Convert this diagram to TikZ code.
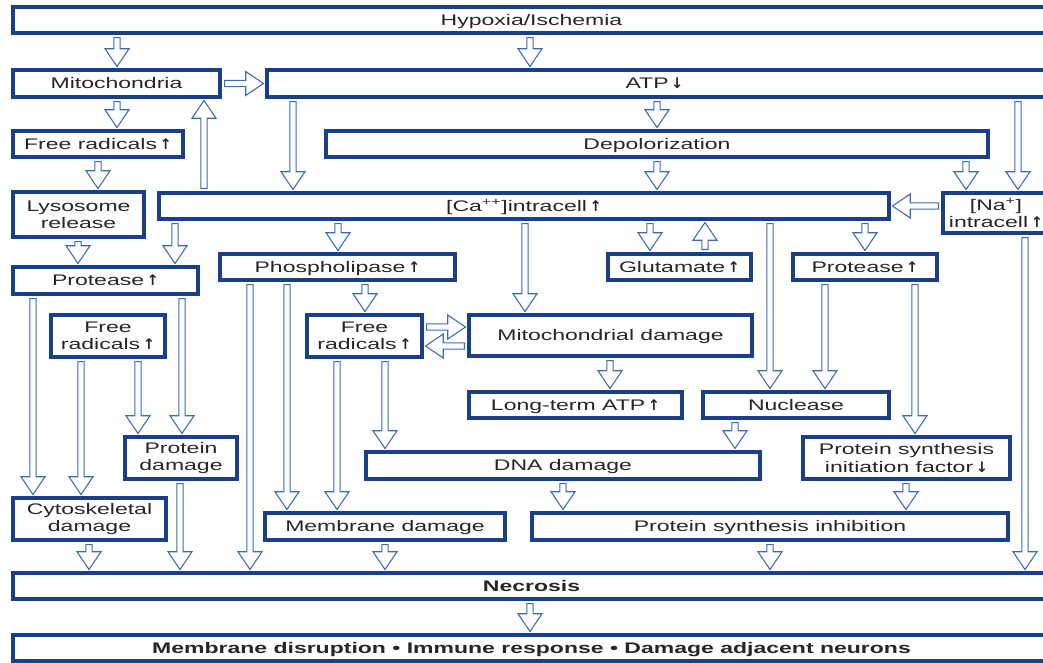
\documentclass[tikz,border=0pt]{standalone}
\usepackage{fontspec}
\setmainfont{Liberation Sans}[FakeStretch=1.5]
\newfontfamily\arrfont{DejaVu Sans}
\usetikzlibrary{shapes.arrows,decorations.markings}
\definecolor{boxblue}{RGB}{25,62,140}
\definecolor{arrblue}{RGB}{60,105,185}
\newcommand\up{\,{\arrfont\bfseries\fontsize{11}{11}\selectfont ↑}}
\newcommand\dn{\,{\arrfont\bfseries\fontsize{11}{11}\selectfont ↓}}
\tikzset{
  box/.style={draw=boxblue, line width=2.4pt, fill=white, inner sep=1pt, outer sep=3pt,
    align=center, text=black!85, font=\fontsize{11.5}{13}\selectfont},
  one/.style={text height=8.2pt, text depth=0pt},
  harrow/.style={postaction={decorate, decoration={markings,
    mark=at position 0 with {\node[single arrow, draw=arrblue, line width=0.8pt, fill=white,
      anchor=tail, transform shape, inner xsep=0pt, inner ysep=2pt, minimum width=0pt,
      minimum height=\pgfdecoratedpathlength, single arrow head extend=6.6pt,
      single arrow tip angle=68, single arrow head indent=0pt] {};}}}}
}
\newcommand\mkbox[7][]{\node[box, #1, minimum width={(#5-#3)*0.75pt}, minimum height={(#6-#4)*0.75pt}]
  (#2) at ({(#3+#5)/2},{(#4+#6)/2}) {#7};}
\begin{document}
\begin{tikzpicture}[x=0.75pt,y=-0.75pt]
\useasboundingbox (0,0) rectangle (1043,662);
% boxes
\mkbox[one]{hyp}{13}{7}{1050}{33}{Hypoxia/Ischemia}
\mkbox[one]{mito}{13}{70}{220}{97}{Mitochondria}
\mkbox[one]{atp}{267}{70}{1050}{97}{\hspace*{-6pt}ATP\dn}
\mkbox[one]{fr1}{13}{131}{183}{157}{Free radicals\up}
\mkbox[one]{depol}{326}{131}{988}{157}{Depolorization}
\mkbox{lyso}{13}{192}{144}{237}{Lysosome\\release}
\mkbox[one]{ca}{159}{193}{889}{219}{[Ca\textsuperscript{++}]intracell\up}
\mkbox{na}{943}{193}{1049}{233}{[Na\textsuperscript{+}]\\intracell\up}
\mkbox[one]{prot1}{13}{267}{198}{294}{Protease\up}
\mkbox[one]{phos}{220}{254}{455}{280}{Phospholipase\up}
\mkbox[one]{glu}{608}{254}{751}{280}{Glutamate\up}
\mkbox[one]{prot2}{793}{254}{937}{280}{Protease\up}
\mkbox{fr2}{51}{315}{165}{357}{Free\\radicals\up}
\mkbox{fr3}{307}{315}{422}{357}{Free\\radicals\up}
\mkbox[one]{mitod}{469}{315}{752}{356}{Mitochondrial damage}
\mkbox[one]{ltatp}{469}{392}{682}{418}{Long-term ATP\up}
\mkbox[one]{nucl}{703}{392}{889}{418}{Nuclease}
\mkbox{pdam}{125}{437}{237}{479}{Protein\\damage}
\mkbox[one]{dna}{366}{452}{760}{479}{DNA damage}
\mkbox{psif}{803}{437}{1010}{479}{Protein synthesis\\initiation factor\dn}
\mkbox{cyto}{13}{498}{166}{540}{Cytoskeletal\\damage}
\mkbox[one]{memd}{265}{513}{505}{540}{Membrane damage}
\mkbox[one]{psi}{532}{513}{1008}{540}{Protein synthesis inhibition}
\mkbox[one]{necro}{13}{573}{1050}{599}{\bfseries Necrosis}
\mkbox[one]{mdis}{13}{635}{1050}{661}{\bfseries Membrane disruption • Immune response • Damage adjacent neurons}
% x / y reference coordinates
\foreach \v in {33,78,81,89,98,117,138,175,180,182,204,250,287,293,337,338,365,385,525,530,563,610,650,657,705,735,770,825,865,906,915,966,1018,1025}
  \coordinate (x\v) at (\v,0);
\foreach \v in {206,327,346}
  \coordinate (y\v) at (0,\v);
% vertical arrows
\path[harrow] (hyp.south -| x117) -- (mito.north -| x117);
\path[harrow] (hyp.south -| x530) -- (atp.north -| x530);
\path[harrow] (mito.south -| x117) -- (fr1.north -| x117);
\path[harrow] (fr1.south -| x98) -- (lyso.north -| x98);
\path[harrow] (atp.south -| x293) -- (ca.north -| x293);
\path[harrow] (ca.north -| x204) -- (mito.south -| x204);
\path[harrow] (atp.south -| x657) -- (depol.north -| x657);
\path[harrow] (atp.south -| x1018) -- (na.north -| x1018);
\path[harrow] (depol.south -| x657) -- (ca.north -| x657);
\path[harrow] (depol.south -| x966) -- (na.north -| x966);
\path[harrow] (lyso.south -| x78) -- (prot1.north -| x78);
\path[harrow] (ca.south -| x175) -- (prot1.north -| x175);
\path[harrow] (ca.south -| x338) -- (phos.north -| x338);
\path[harrow] (ca.south -| x525) -- (mitod.north -| x525);
\path[harrow] (ca.south -| x650) -- (glu.north -| x650);
\path[harrow] (glu.north -| x705) -- (ca.south -| x705);
\path[harrow] (ca.south -| x770) -- (nucl.north -| x770);
\path[harrow] (ca.south -| x865) -- (prot2.north -| x865);
\path[harrow] (prot1.south -| x33) -- (cyto.north -| x33);
\path[harrow] (prot1.south -| x182) -- (pdam.north -| x182);
\path[harrow] (fr2.south -| x81) -- (cyto.north -| x81);
\path[harrow] (fr2.south -| x138) -- (pdam.north -| x138);
\path[harrow] (pdam.south -| x180) -- (necro.north -| x180);
\path[harrow] (cyto.south -| x89) -- (necro.north -| x89);
\path[harrow] (phos.south -| x250) -- (necro.north -| x250);
\path[harrow] (phos.south -| x287) -- (memd.north -| x287);
\path[harrow] (phos.south -| x365) -- (fr3.north -| x365);
\path[harrow] (fr3.south -| x337) -- (memd.north -| x337);
\path[harrow] (fr3.south -| x385) -- (dna.north -| x385);
\path[harrow] (mitod.south -| x610) -- (ltatp.north -| x610);
\path[harrow] (nucl.south -| x735) -- (dna.north -| x735);
\path[harrow] (prot2.south -| x825) -- (nucl.north -| x825);
\path[harrow] (prot2.south -| x915) -- (psif.north -| x915);
\path[harrow] (psif.south -| x906) -- (psi.north -| x906);
\path[harrow] (na.south -| x1025) -- (necro.north -| x1025);
\path[harrow] (memd.south -| x385) -- (necro.north -| x385);
\path[harrow] (psi.south -| x770) -- (necro.north -| x770);
\path[harrow] (dna.south -| x563) -- (psi.north -| x563);
\path[harrow] (necro.south -| x530) -- (mdis.north -| x530);
% horizontal arrows
\path[harrow] (mito.east) -- (atp.west |- mito.east);
\path[harrow] (na.west |- y206) -- (ca.east |- y206);
\path[harrow] (fr3.east |- y327) -- (mitod.west |- y327);
\path[harrow] (mitod.west |- y346) -- (fr3.east |- y346);
\end{tikzpicture}
\end{document}
